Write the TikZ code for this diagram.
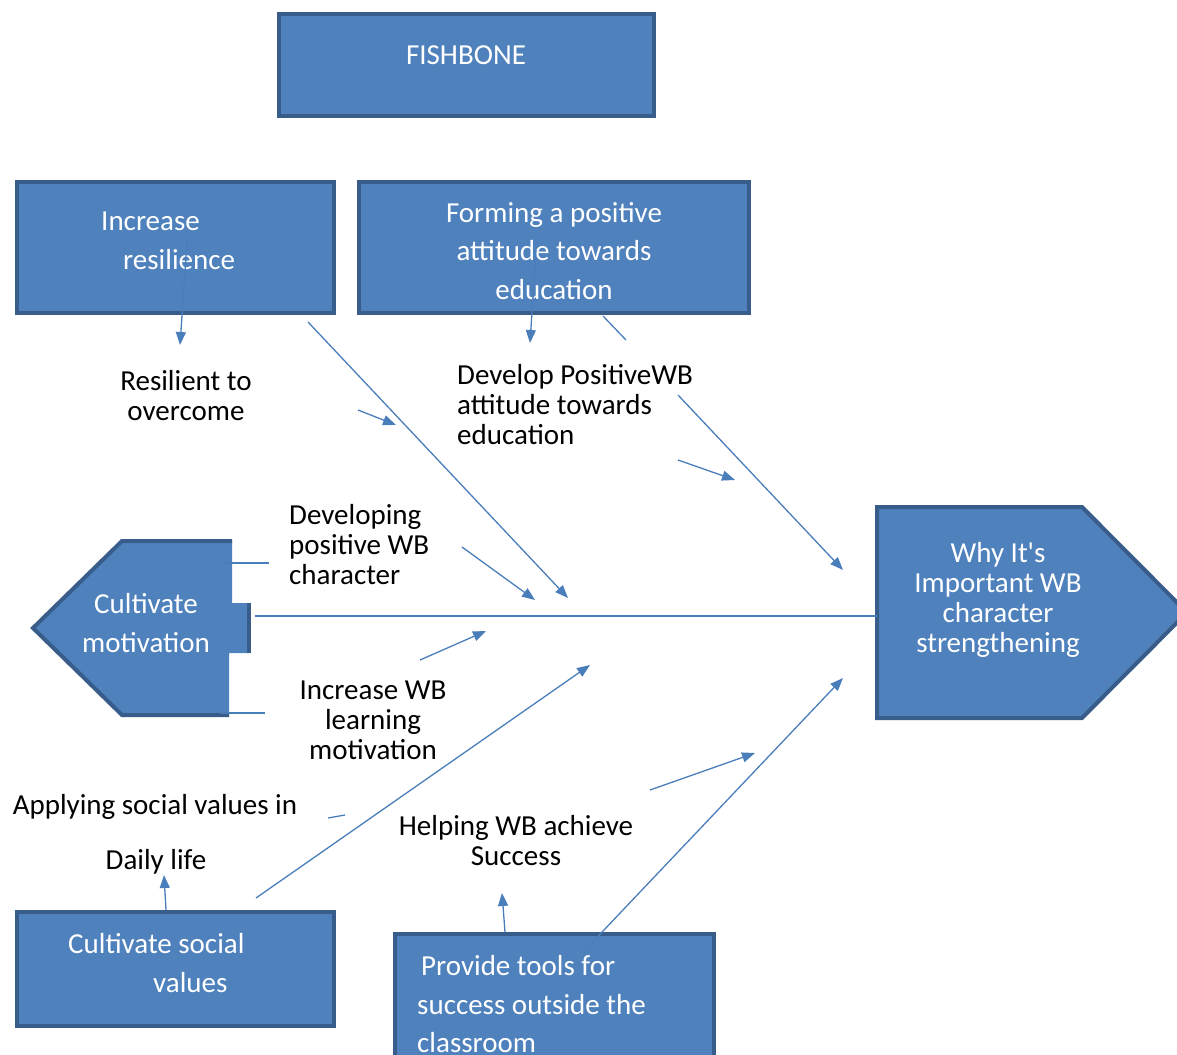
\documentclass[tikz,border=0pt]{standalone}
\usepackage{fontspec}
\setmainfont{Carlito}
\usetikzlibrary{arrows.meta}
\definecolor{boxblue}{RGB}{79,129,189}
\definecolor{boxedge}{RGB}{56,93,138}
\definecolor{linkblue}{RGB}{74,126,187}
\tikzset{
  box/.style={draw=boxedge, line width=4pt, fill=boxblue, inner sep=0pt},
  boxtext/.style={text=white, inner sep=0pt, font=\fontsize{29}{38.5}\selectfont},
  lbl/.style={inner sep=0pt, align=center},
  bone/.style={draw=linkblue, line width=1.3pt},
  link/.style={bone, -{Triangle[width=10pt,length=13pt]}},
}
\begin{document}
\begin{tikzpicture}[x=1pt, y=-1pt, font=\fontsize{29}{30}\selectfont]
\useasboundingbox (0,0) rectangle (1177,1054);

\node[box, minimum width=375, minimum height=102] (fish) at (466,65) {};
\node[boxtext] (fishtxt) at (466,55) {FISHBONE};

\node[box, minimum width=317, minimum height=131] (resbox) at (175.5,247.5) {};
\node[boxtext, anchor=west, align=left] (restxt) at (101,241) {Increase\\\hspace*{22pt}resilience};

\node[box, minimum width=390, minimum height=131] (formbox) at (554,247.5) {};
\node[boxtext, align=center] (formtxt) at (554,251) {Forming a positive\\attitude towards\\education};

\node[box, minimum width=317, minimum height=114] (socbox) at (175.5,969) {};
\node[boxtext, anchor=west, align=left] (soctxt) at (68,963) {Cultivate social\\\hspace*{85pt}values};

\node[box, minimum width=319, minimum height=170] (toolbox) at (554.5,1019) {};
\node[boxtext, anchor=west, align=left] (tooltxt) at (417,1004.5) {\hspace*{4pt}Provide tools for\\success outside the\\classroom};

% head and tail
\fill[boxblue] (33,628) -- (122,541) -- (232,541) -- (232,603) -- (249,603)
  -- (249,653) -- (229,653) -- (229,715) -- (122,715) -- cycle;
\draw[boxedge, line width=4pt] (232,541) -- (122,541) -- (33,628) -- (122,715) -- (229,715);
\draw[boxedge, line width=4pt] (249,603) -- (249,653);
\node[boxtext, align=center, font=\fontsize{29}{39}\selectfont] (motiv) at (146,623) {Cultivate\\motivation};

\draw[box] (877,507) -- (1082,507) -- (1187,612.5) -- (1082,718) -- (877,718) -- cycle;
\node[boxtext, align=center, font=\fontsize{29}{30}\selectfont] (why) at (998,600) {Why It\textquotesingle s\\Important WB\\character\\strengthening};

% labels
\node[lbl] (resil) at (186,396) {Resilient to\\overcome};
\node[lbl, anchor=west, align=left] (devpos) at (457,405) {Develop PositiveWB\\attitude towards\\education};
\node[lbl, anchor=west, align=left] (devchar) at (289,545) {Developing\\positive WB\\character};
\node[lbl] (incmot) at (373,720) {Increase WB\\learning\\motivation};
\node[lbl] (apply) at (155,807) {Applying social values in};
\node[lbl] (daily) at (156,862) {Daily life};
\node[lbl] (help) at (516,841) {Helping WB achieve\\Success};

% bones
\coordinate (spineL) at (255,616);
\draw[bone] (spineL) -- (877,616);
\coordinate (t1a) at (224,563); \coordinate (t1b) at (269,563);
\coordinate (t2a) at (220,713); \coordinate (t2b) at (265,713);
\draw[bone] (t1a) -- (t1b);
\draw[bone] (t2a) -- (t2b);

\coordinate (r1) at (187,242); \coordinate (r2) at (180,345);
\draw[link] (r1) -- (r2);
\coordinate (f1) at (536,250); \coordinate (f2) at (530,343);
\draw[link] (f1) -- (f2);
\coordinate (d1) at (308,322); \coordinate (d2) at (568,598);
\draw[link] (d1) -- (d2);
\coordinate (d3) at (358,410); \coordinate (d4) at (396,425);
\draw[link] (d3) -- (d4);
\coordinate (e1) at (603,316); \coordinate (e2) at (626,340);
\coordinate (e3) at (678,395); \coordinate (e4) at (843,570);
\draw[bone] (e1) -- (e2);
\draw[link] (e3) -- (e4);
\coordinate (e5) at (678,460); \coordinate (e6) at (735,480);
\draw[link] (e5) -- (e6);
\coordinate (c1) at (462,547); \coordinate (c2) at (535,600);
\draw[link] (c1) -- (c2);
\coordinate (m1) at (420,660); \coordinate (m2) at (486,631);
\draw[link] (m1) -- (m2);
\coordinate (s1) at (256,898); \coordinate (s2) at (590,665);
\draw[link] (s1) -- (s2);
\coordinate (s3) at (328,818); \coordinate (s4) at (345,815);
\draw[bone] (s3) -- (s4);
\coordinate (s5) at (166,910); \coordinate (s6) at (164,875);
\draw[link] (s5) -- (s6);
\coordinate (p1) at (505,932); \coordinate (p2) at (502,893);
\draw[link] (p1) -- (p2);
\coordinate (p3) at (650,790); \coordinate (p4) at (755,753);
\draw[link] (p3) -- (p4);
\coordinate (p5) at (585,950); \coordinate (p6) at (843,678);
\draw[link] (p5) -- (p6);
\end{tikzpicture}
\end{document}
